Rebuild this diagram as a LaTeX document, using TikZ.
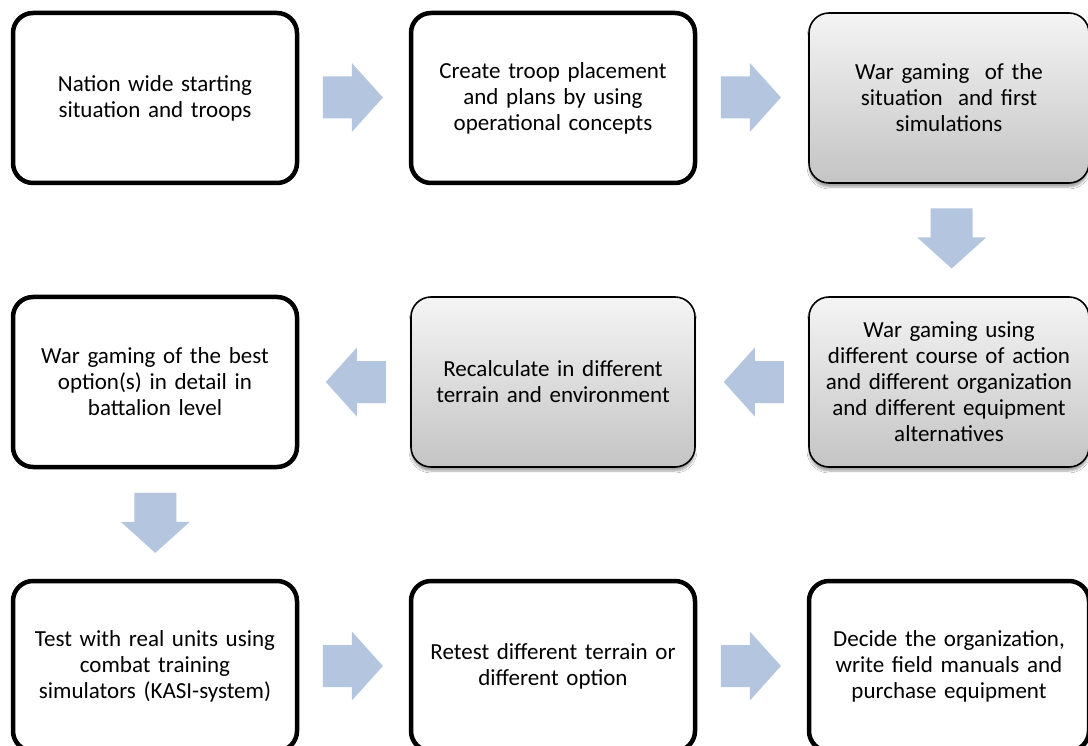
\documentclass[tikz,border=0pt]{standalone}
\usepackage{fontspec}
\setmainfont{Carlito}
\usetikzlibrary{shapes.arrows,shadows.blur}
\definecolor{arrowblue}{RGB}{180,197,223}
\definecolor{gradtop}{RGB}{244,244,244}
\definecolor{gradbot}{RGB}{196,196,196}
\tikzset{
  stepbase/.style={rounded corners=20pt, minimum width=284pt, minimum height=170pt,
    text width=270pt, align=center, inner sep=0pt,
    font=\fontsize{23}{26}\selectfont},
  lastcol/.style={minimum width=280pt},
  plainbox/.style={stepbase, draw=black, line width=4.5pt, fill=white},
  shadedbox/.style={stepbase, draw=black, line width=1.6pt,
    top color=gradtop, bottom color=gradbot,
    blur shadow={shadow xshift=0pt, shadow yshift=-4pt, shadow blur steps=6, shadow opacity=35}},
  blockarrow/.style={single arrow, fill=arrowblue, draw=none, inner xsep=0pt, inner ysep=20.8pt,
    single arrow head extend=13.5pt, minimum height=60pt, single arrow tip angle=96, anchor=tail},
}
\begin{document}
\begin{tikzpicture}[x=1pt,y=-1pt]
\useasboundingbox (0,0) rectangle (1088,746);
\clip (0,0) rectangle (1088,746);
\fill[white] (0,0) rectangle (1088,746);

% first row
\node[plainbox]  (start)  at (155,98)   {Nation wide starting\\situation and troops};
\node[plainbox]  (plans)  at (553,98)   {Create troop placement\\and plans by using\\operational concepts};
\node[shadedbox, lastcol] (first)  at (949,98) {War gaming\ \ of the\\situation\ \ and first\\simulations};

% second row
\node[plainbox]  (best)   at (155,382)  {War gaming of the best\\option(s) in detail in\\battalion level};
\node[shadedbox] (recalc) at (553,382)  {Recalculate in different\\terrain and environment};
\node[shadedbox, lastcol] (coa)    at (949,382){War gaming using\\different course of action\\and different organization\\and different equipment\\alternatives};

% third row
\node[plainbox]  (test)   at (155,666)  {Test with real units using\\combat training\\simulators (KASI-system)};
\node[plainbox]  (retest) at (553,666)  {Retest different terrain or\\different option};
\node[plainbox, lastcol]  (decide) at (949,666){Decide the organization,\\write field manuals and\\purchase equipment};

% block arrows between the steps, placed by their tails
\node[blockarrow] (a1) at (322.7,97.5) {};
\node[blockarrow] (a2) at (720.7,97.5) {};
\node[blockarrow, rotate=-90] (a3) at (951.7,208.3) {};
\node[blockarrow, rotate=180] (a4) at (784,382) {};
\node[blockarrow, rotate=180] (a5) at (386,382) {};
\node[blockarrow, rotate=-90] (a6) at (155.3,492.7) {};
\node[blockarrow] (a7) at (322.7,666) {};
\node[blockarrow] (a8) at (720.7,666) {};
\end{tikzpicture}
\end{document}
